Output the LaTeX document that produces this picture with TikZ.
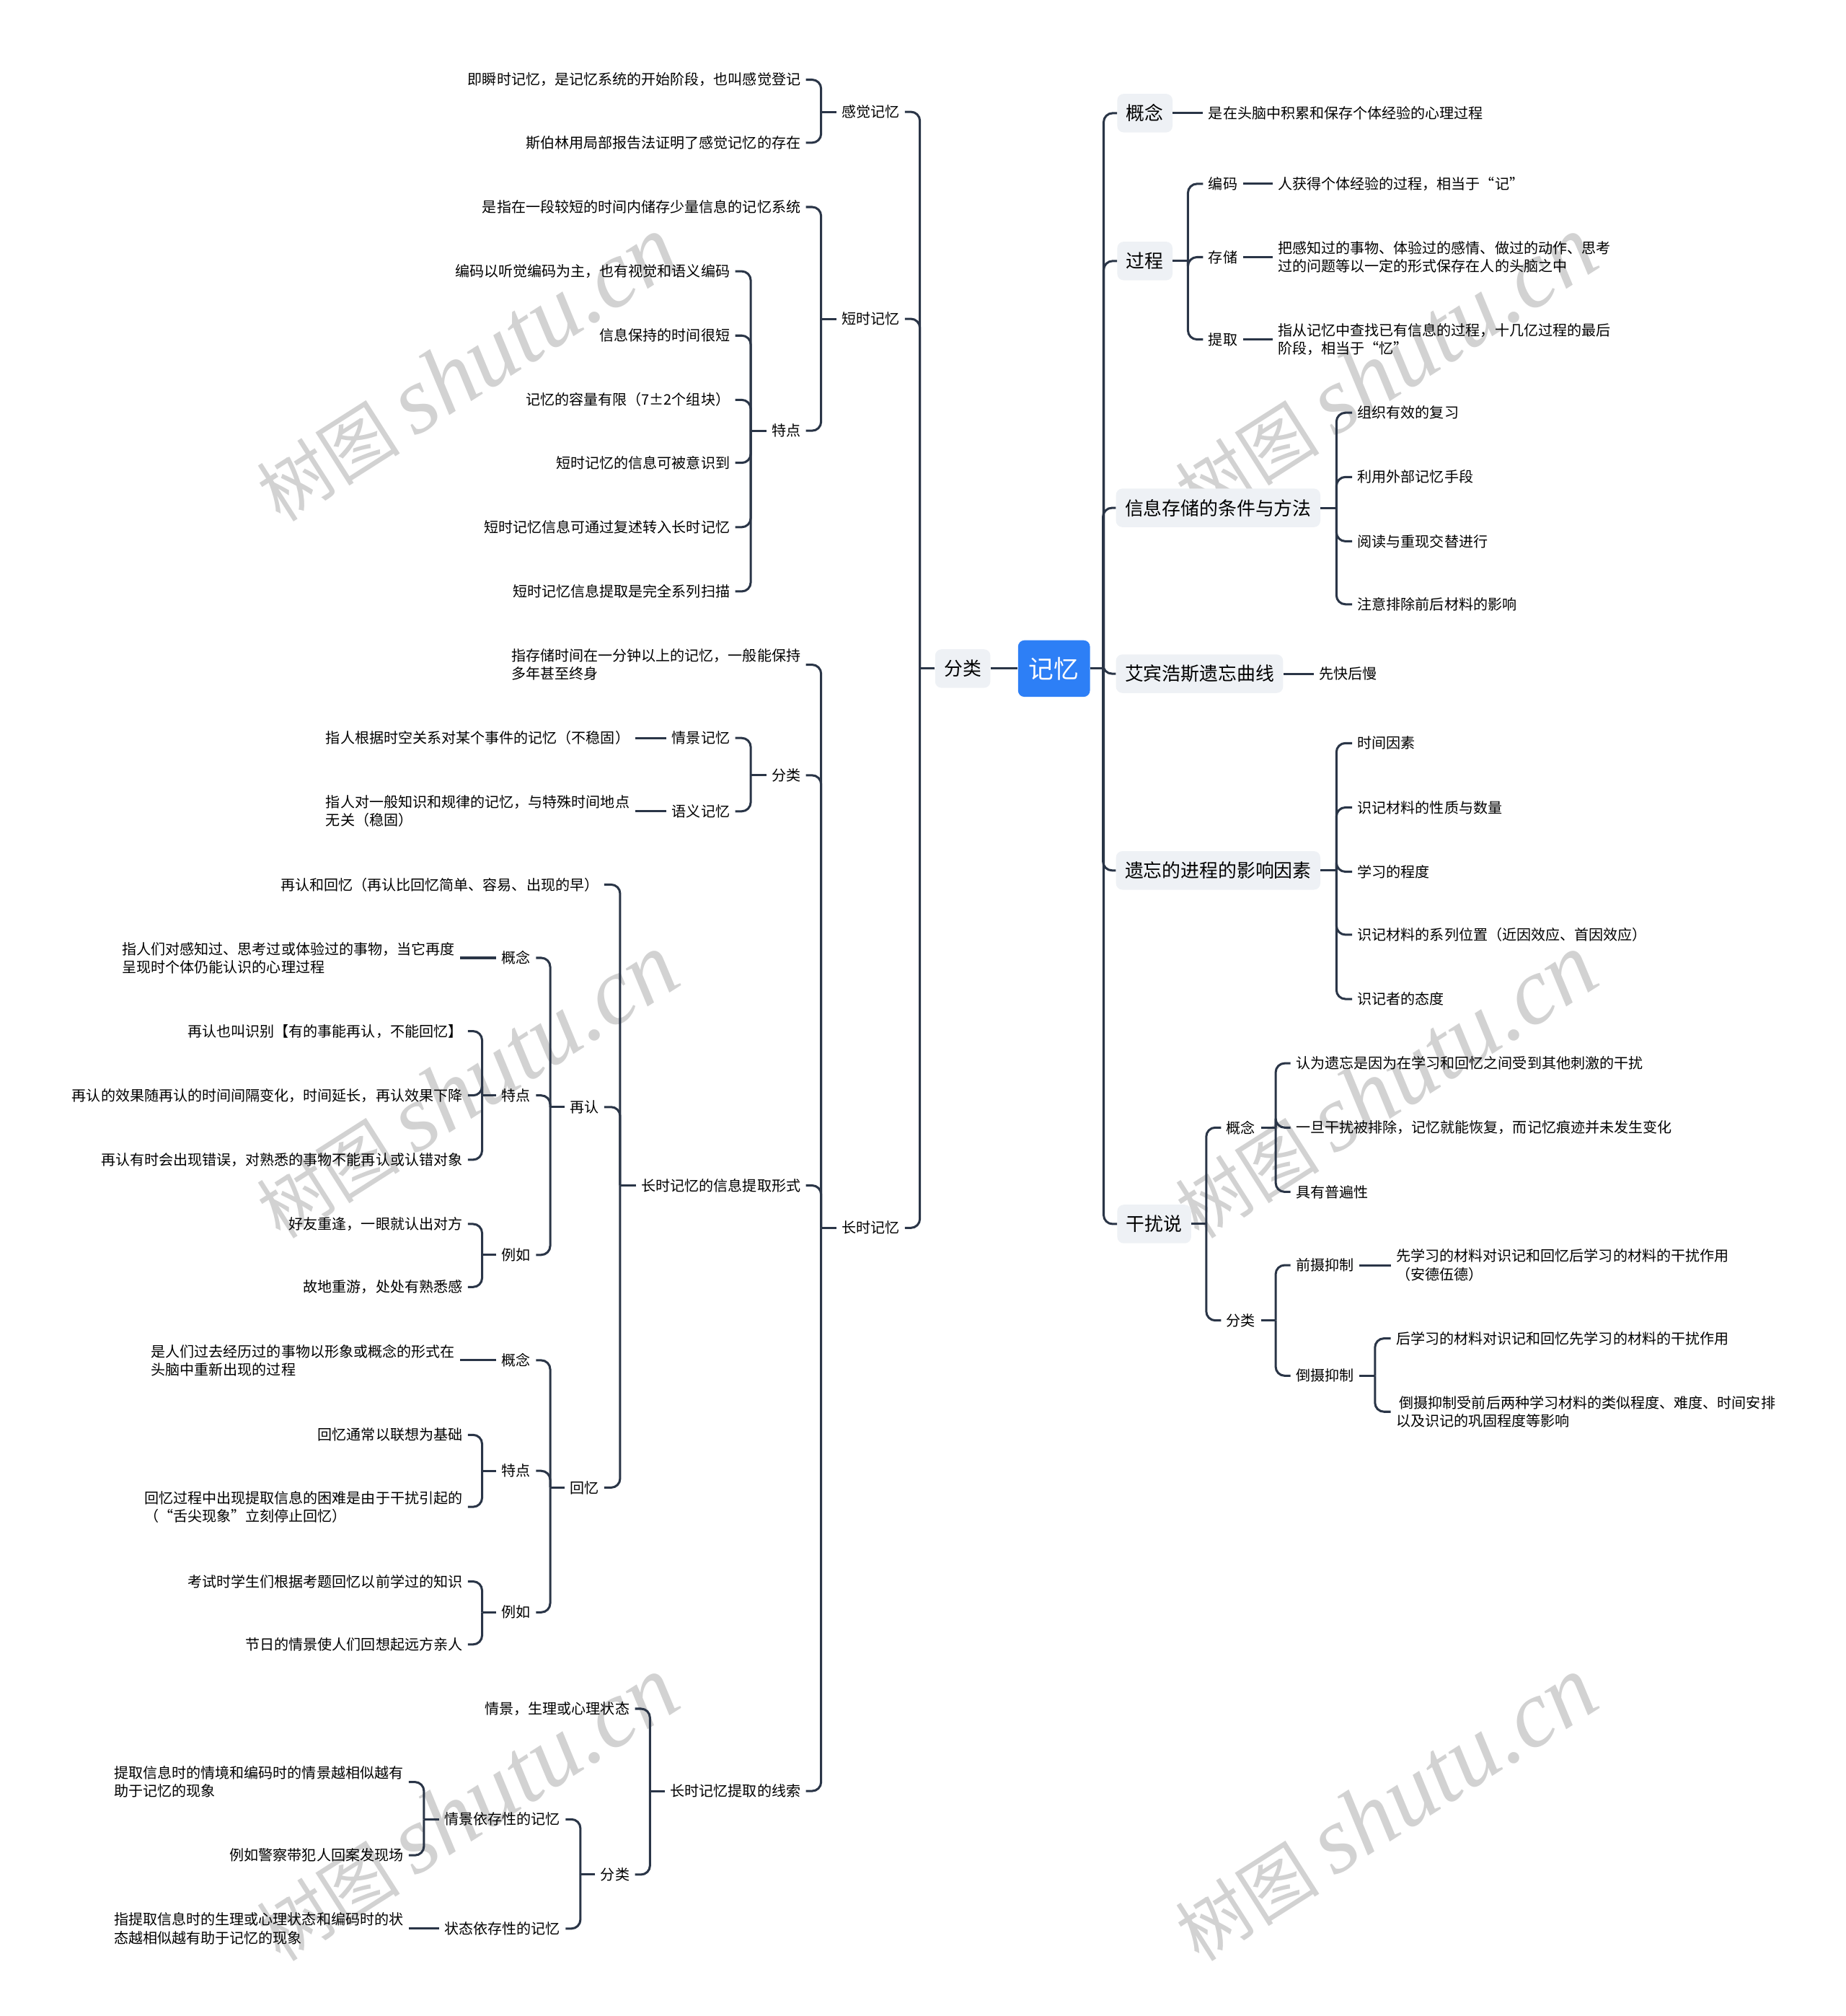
\documentclass[tikz,border=0pt]{standalone}
\usepackage{fontspec}
\setmainfont{Noto Sans CJK SC}
\newfontfamily\markfont{Liberation Serif}
\usepackage{tikz}
\usetikzlibrary{calc, positioning}
\definecolor{linenavy}{RGB}{42,53,71}
\definecolor{rootblue}{RGB}{45,127,246}
\definecolor{boxgray}{RGB}{238,241,245}

\tikzset{
  link/.style={draw=linenavy, line width=1.7pt, rounded corners=7pt},
  txt/.style={font=\fontsize{11.25}{14.2}\selectfont, inner xsep=4pt, inner ysep=2pt, align=left},
  ltxt/.style={txt, anchor=east},
  rtxt/.style={txt, anchor=west},
  topic/.style={fill=boxgray, rounded corners=5pt, font=\fontsize{14.5}{17}\selectfont, inner xsep=7pt, minimum height=30pt},
  rootbox/.style={fill=rootblue, text=white, rounded corners=5pt, font=\fontsize{19.5}{22}\selectfont, minimum width=56pt, minimum height=44pt},
  wmark/.style={text=gray!35, rotate=32.5, inner sep=0pt}
}

% parent on the right, children on the left
\newcommand{\lbranch}[2]{%
  \foreach \kid in {#2}{%
    \coordinate (spine) at ($(#1.west)!.5!(#1.west -| \kid.east)$);
    \draw[link] (#1.west) -- (spine);
    \draw[link] (spine) |- (\kid.east);
  }}
% parent on the left, children on the right
\newcommand{\rbranch}[2]{%
  \foreach \kid in {#2}{%
    \coordinate (spine) at ($(#1.east)!.5!(#1.east -| \kid.west)$);
    \draw[link] (#1.east) -- (spine);
    \draw[link] (spine) |- (\kid.west);
  }}

\begin{document}
\begin{tikzpicture}[x=1pt, y=-1pt]
  \useasboundingbox (0,0) rectangle (1436,1568);

  % watermarks
  \foreach \wx/\wy [count=\i] in {363/287, 1078/287, 363/845, 1078/845, 363/1407, 1078/1407}{
    \node[wmark] (wm\i) at (\wx,\wy) {{\fontsize{56}{60}\selectfont 树图}\hspace{12pt}{\markfont\itshape\fontsize{74}{80}\selectfont shutu.cn}};
  }

  % centre
  \node[rootbox] (root) at (820,520) {记忆};
  \node[topic] (cls) at (749,520) {分类};
  \draw[link] (root.west) -- (cls.east);

  % ---- right half ----
  \node[topic, anchor=west] (concept) at (869,88) {概念};
  \node[topic, anchor=west] (proc) at (869,203) {过程};
  \node[topic, anchor=west] (keep) at (868,395) {信息存储的条件与方法};
  \node[topic, anchor=west] (ebb) at (868,524) {艾宾浩斯遗忘曲线};
  \node[topic, anchor=west] (forget) at (868,677) {遗忘的进程的影响因素};
  \node[topic, anchor=west] (intf) at (869,952) {干扰说};
  \rbranch{root}{concept,proc,keep,ebb,forget,intf}

  \node[rtxt] (conceptd) at (936,88) {是在头脑中积累和保存个体经验的心理过程};
  \draw[link] (concept.east) -- (conceptd.west);

  % process
  \node[rtxt] (enc) at (936,143) {编码};
  \node[rtxt] (sto) at (936,200) {存储};
  \node[rtxt] (ret) at (936,264) {提取};
  \rbranch{proc}{enc,sto,ret}
  \node[rtxt] (encd) at (990,143) {人获得个体经验的过程，相当于“记”};
  \node[rtxt] (stod) at (990,200) {把感知过的事物、体验过的感情、做过的动作、思考\\过的问题等以一定的形式保存在人的头脑之中};
  \node[rtxt] (retd) at (990,264) {指从记忆中查找已有信息的过程，十几亿过程的最后\\阶段，相当于“忆”};
  \draw[link] (enc.east) -- (encd.west);
  \draw[link] (sto.east) -- (stod.west);
  \draw[link] (ret.east) -- (retd.west);

  % storage
  \node[rtxt] (keep1) at (1052,321) {组织有效的复习};
  \node[rtxt] (keep2) at (1052,371) {利用外部记忆手段};
  \node[rtxt] (keep3) at (1052,421) {阅读与重现交替进行};
  \node[rtxt] (keep4) at (1052,470) {注意排除前后材料的影响};
  \rbranch{keep}{keep1,keep2,keep3,keep4}

  \node[rtxt] (ebbd) at (1022,524) {先快后慢};
  \draw[link] (ebb.east) -- (ebbd.west);

  % forgetting
  \node[rtxt] (fg1) at (1052,578) {时间因素};
  \node[rtxt] (fg2) at (1052,628) {识记材料的性质与数量};
  \node[rtxt] (fg3) at (1052,678) {学习的程度};
  \node[rtxt] (fg4) at (1052,727) {识记材料的系列位置（近因效应、首因效应）};
  \node[rtxt] (fg5) at (1052,777) {识记者的态度};
  \rbranch{forget}{fg1,fg2,fg3,fg4,fg5}

  % interference
  \node[rtxt] (intfdef) at (950,877) {概念};
  \node[rtxt] (intfcls) at (950,1027) {分类};
  \rbranch{intf}{intfdef,intfcls}
  \node[rtxt] (idef1) at (1004,827) {认为遗忘是因为在学习和回忆之间受到其他刺激的干扰};
  \node[rtxt] (idef2) at (1004,877) {一旦干扰被排除，记忆就能恢复，而记忆痕迹并未发生变化};
  \node[rtxt] (idef3) at (1004,927) {具有普遍性};
  \rbranch{intfdef}{idef1,idef2,idef3}
  \node[rtxt] (pro) at (1004,984) {前摄抑制};
  \node[rtxt] (retro) at (1004,1070) {倒摄抑制};
  \rbranch{intfcls}{pro,retro}
  \node[rtxt] (prod) at (1082,984) {先学习的材料对识记和回忆后学习的材料的干扰作用\\（安德伍德）};
  \draw[link] (pro.east) -- (prod.west);
  \node[rtxt] (retro1) at (1082,1041) {后学习的材料对识记和回忆先学习的材料的干扰作用};
  \node[rtxt] (retro2) at (1082,1098) {\ 倒摄抑制受前后两种学习材料的类似程度、难度、时间安排\\以及识记的巩固程度等影响};
  \rbranch{retro}{retro1,retro2}

  % ---- left half ----
  \node[ltxt] (sens) at (704,87) {感觉记忆};
  \node[ltxt] (stm) at (704,248) {短时记忆};
  \node[ltxt] (ltm) at (704,955) {长时记忆};
  \lbranch{cls}{sens,stm,ltm}

  % sensory memory
  \node[ltxt] (sens1) at (627,62) {即瞬时记忆，是记忆系统的开始阶段，也叫感觉登记};
  \node[ltxt] (sens2) at (627,111) {斯伯林用局部报告法证明了感觉记忆的存在};
  \lbranch{sens}{sens1,sens2}

  % short-term memory
  \node[ltxt] (stm1) at (627,161) {是指在一段较短的时间内储存少量信息的记忆系统};
  \node[ltxt] (stmfeat) at (627,335) {特点};
  \lbranch{stm}{stm1,stmfeat}
  \node[ltxt] (stmf1) at (572,211) {编码以听觉编码为主，也有视觉和语义编码};
  \node[ltxt] (stmf2) at (572,261) {信息保持的时间很短};
  \node[ltxt] (stmf3) at (572,311) {记忆的容量有限（7±2个组块）};
  \node[ltxt] (stmf4) at (572,360) {短时记忆的信息可被意识到};
  \node[ltxt] (stmf5) at (572,410) {短时记忆信息可通过复述转入长时记忆};
  \node[ltxt] (stmf6) at (572,460) {短时记忆信息提取是完全系列扫描};
  \lbranch{stmfeat}{stmf1,stmf2,stmf3,stmf4,stmf5,stmf6}

  % long-term memory
  \node[ltxt] (ltm1) at (627,517) {指存储时间在一分钟以上的记忆，一般能保持\\多年甚至终身};
  \node[ltxt] (ltmcls) at (627,603) {分类};
  \node[ltxt] (form) at (627,922) {长时记忆的信息提取形式};
  \node[ltxt] (cue) at (627,1393) {长时记忆提取的线索};
  \lbranch{ltm}{ltm1,ltmcls,form,cue}

  \node[ltxt] (epis) at (572,574) {情景记忆};
  \node[ltxt] (sema) at (572,631) {语义记忆};
  \lbranch{ltmcls}{epis,sema}
  \node[ltxt] (episd) at (494,574) {指人根据时空关系对某个事件的记忆（不稳固）};
  \node[ltxt] (semad) at (494,631) {指人对一般知识和规律的记忆，与特殊时间地点\\无关（稳固）};
  \draw[link] (epis.west) -- (episd.east);
  \draw[link] (sema.west) -- (semad.east);

  % retrieval forms
  \node[ltxt] (formall) at (470,688) {再认和回忆（再认比回忆简单、容易、出现的早）};
  \node[ltxt] (rec) at (470,861) {再认};
  \node[ltxt] (rcl) at (470,1157) {回忆};
  \lbranch{form}{formall,rec,rcl}

  \node[ltxt] (recdef) at (417,745) {概念};
  \node[ltxt] (recfeat) at (417,852) {特点};
  \node[ltxt] (receg) at (417,976) {例如};
  \lbranch{rec}{recdef,recfeat,receg}
  \node[ltxt] (recdefd) at (358,745) {指人们对感知过、思考过或体验过的事物，当它再度\\呈现时个体仍能认识的心理过程};
  \draw[link] (recdef.west) -- (recdefd.east);
  \node[ltxt] (recf1) at (364,802) {再认也叫识别【有的事能再认，不能回忆】};
  \node[ltxt] (recf2) at (364,852) {再认的效果随再认的时间间隔变化，时间延长，再认效果下降};
  \node[ltxt] (recf3) at (364,902) {再认有时会出现错误，对熟悉的事物不能再认或认错对象};
  \lbranch{recfeat}{recf1,recf2,recf3}
  \node[ltxt] (rece1) at (364,952) {好友重逢，一眼就认出对方};
  \node[ltxt] (rece2) at (364,1001) {故地重游，处处有熟悉感};
  \lbranch{receg}{rece1,rece2}

  \node[ltxt] (rcldef) at (417,1058) {概念};
  \node[ltxt] (rclfeat) at (417,1144) {特点};
  \node[ltxt] (rcleg) at (417,1254) {例如};
  \lbranch{rcl}{rcldef,rclfeat,rcleg}
  \node[ltxt] (rcldefd) at (358,1058) {是人们过去经历过的事物以形象或概念的形式在\\头脑中重新出现的过程};
  \draw[link] (rcldef.west) -- (rcldefd.east);
  \node[ltxt] (rclf1) at (364,1116) {回忆通常以联想为基础};
  \node[ltxt] (rclf2) at (364,1172) {回忆过程中出现提取信息的困难是由于干扰引起的\\（“舌尖现象”立刻停止回忆）};
  \lbranch{rclfeat}{rclf1,rclf2}
  \node[ltxt] (rcle1) at (364,1230) {考试时学生们根据考题回忆以前学过的知识};
  \node[ltxt] (rcle2) at (364,1279) {节日的情景使人们回想起远方亲人};
  \lbranch{rcleg}{rcle1,rcle2}

  % retrieval cues
  \node[ltxt] (cue1) at (494,1329) {情景，生理或心理状态};
  \node[ltxt] (cuecls) at (494,1458) {分类};
  \lbranch{cue}{cue1,cuecls}
  \node[ltxt] (ctx) at (440,1415) {情景依存性的记忆};
  \node[ltxt] (state) at (440,1500) {状态依存性的记忆};
  \lbranch{cuecls}{ctx,state}
  \node[ltxt] (ctx1) at (318,1386) {提取信息时的情境和编码时的情景越相似越有\\助于记忆的现象};
  \node[ltxt] (ctx2) at (318,1443) {例如警察带犯人回案发现场};
  \lbranch{ctx}{ctx1,ctx2}
  \node[ltxt] (stated) at (318,1500) {指提取信息时的生理或心理状态和编码时的状\\态越相似越有助于记忆的现象};
  \draw[link] (state.west) -- (stated.east);
\end{tikzpicture}
\end{document}
